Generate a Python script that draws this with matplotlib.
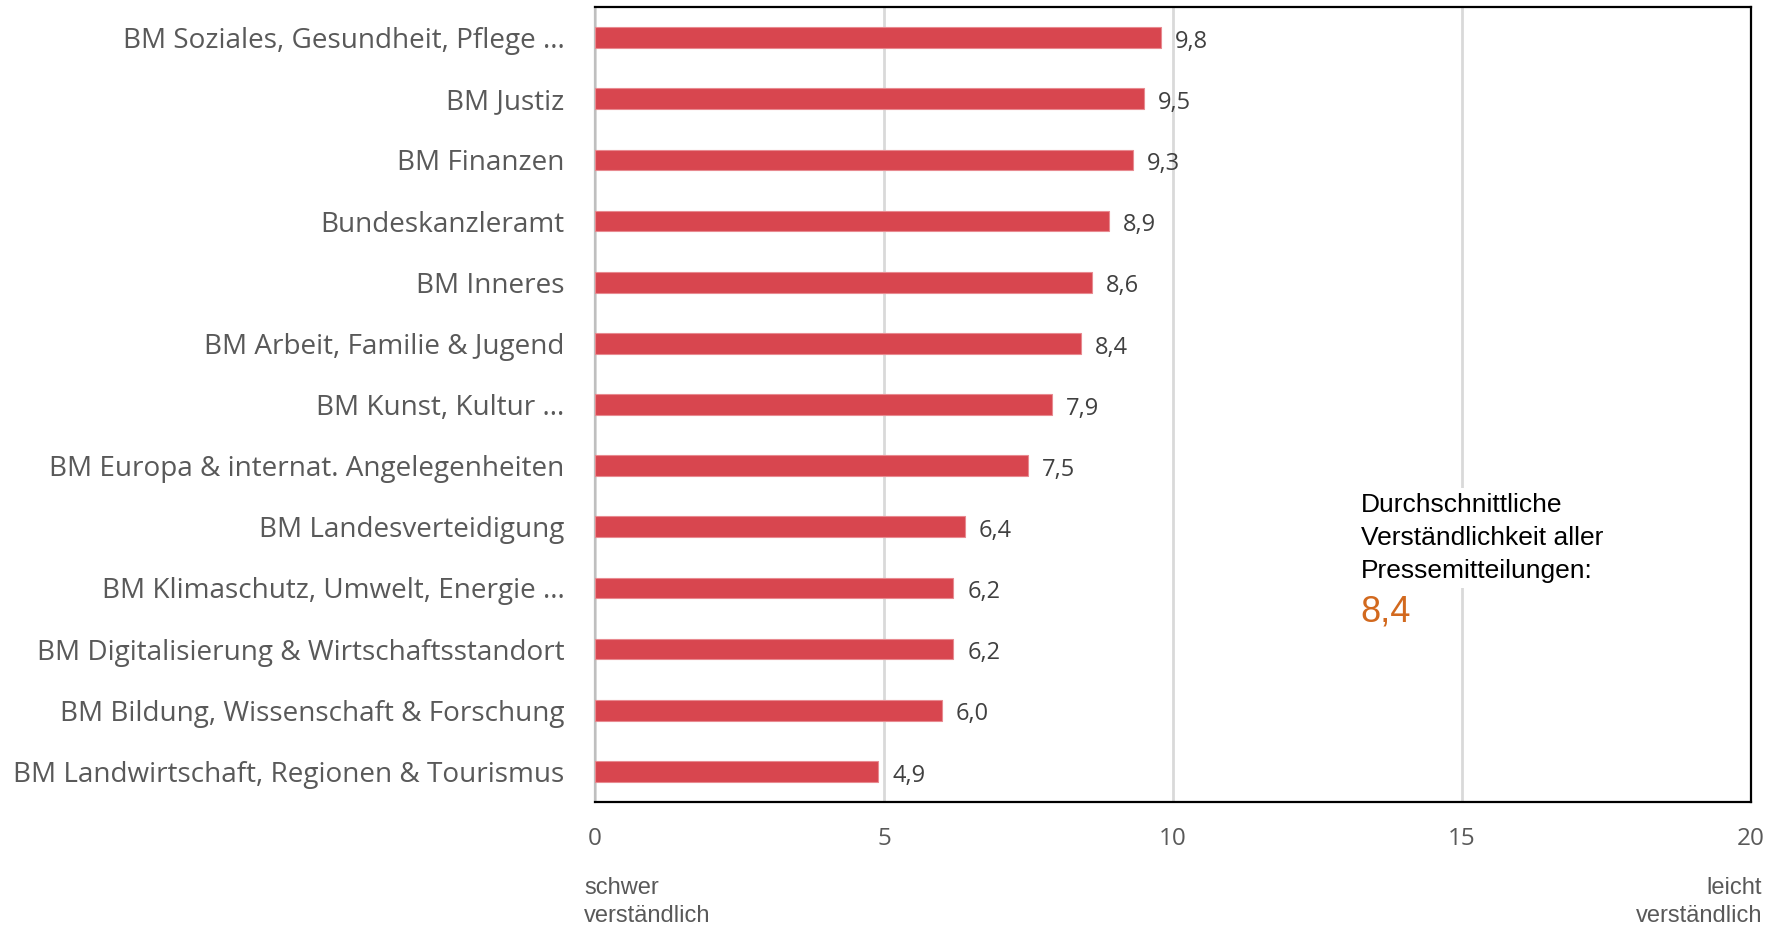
import numpy as np
import matplotlib
matplotlib.use("Agg")
import matplotlib.pyplot as plt

# Daten (von oben nach unten)
ministerien = [
    "BM Soziales, Gesundheit, Pflege ...",
    "BM Justiz",
    "BM Finanzen",
    "Bundeskanzleramt",
    "BM Inneres",
    "BM Arbeit, Familie & Jugend",
    "BM Kunst, Kultur ...",
    "BM Europa & internat. Angelegenheiten",
    "BM Landesverteidigung",
    "BM Klimaschutz, Umwelt, Energie ...",
    "BM Digitalisierung & Wirtschaftsstandort",
    "BM Bildung, Wissenschaft & Forschung",
    "BM Landwirtschaft, Regionen & Tourismus",
]
werte = [9.8, 9.5, 9.3, 8.9, 8.6, 8.4, 7.9, 7.5, 6.4, 6.2, 6.2, 6.0, 4.9]
xticks = [0, 5, 10, 15, 20]
durchschnitt = 8.4

rot = "#D8464F"
grau = "#595959"
dunkel = "#404040"
orange = "#D2691E"

fig = plt.figure(figsize=(17.77, 9.25), dpi=100)
ax = fig.add_axes([0.3348, 0.1330, 0.6506, 0.8594])

y = np.arange(len(ministerien))
ax.barh(y, werte, height=0.34, color=rot, edgecolor="#E88A90", linewidth=0.8, zorder=3)

for i, v in enumerate(werte):
    ax.annotate(f"{v:.1f}".replace(".", ","), xy=(v, i), xytext=(10, -3),
                textcoords="offset points", va="center", ha="left",
                fontsize=17, color=dunkel, family="Open Sans")

ax.set_ylim(len(ministerien) - 0.5, -0.5)
ax.set_xlim(0, 20)
ax.set_yticks(y)
ax.set_yticklabels(ministerien, fontsize=20.1, color=grau, family="Open Sans")
ax.set_xticks(xticks)
ax.set_xticklabels([str(t) for t in xticks], fontsize=17.5, color=grau, family="Open Sans")
ax.tick_params(axis="y", length=0, pad=22)
ax.tick_params(axis="x", length=0, pad=18)

ax.grid(axis="x", color="#D9D9D9", linewidth=2, zorder=0)
ax.set_axisbelow(True)

for s in ["top", "right", "bottom"]:
    ax.spines[s].set_color("black")
    ax.spines[s].set_linewidth(1.6)
ax.spines["left"].set_color("#BFBFBF")
ax.spines["left"].set_linewidth(1.6)

# Kasten mit Durchschnitt
ax.text(13.25, 7.45, "Durchschnittliche\nVerständlichkeit aller\nPressemitteilungen:",
        va="top", ha="left", fontsize=19, linespacing=1.46, color="black",
        family="Liberation Sans", zorder=4,
        bbox=dict(facecolor="white", edgecolor="none", pad=4))
ax.text(13.25, 9.55, f"{durchschnitt:.1f}".replace(".", ","), va="baseline", ha="left",
        fontsize=26, color=orange, family="Liberation Sans", zorder=4,
        bbox=dict(facecolor="white", edgecolor="none", pad=6))

fig.text(584 / 1777, 0.052, "schwer\nverständlich", ha="left", va="top",
         fontsize=17, color=grau, family="Liberation Sans", linespacing=1.35)
fig.text(1762 / 1777, 0.052, "leicht\nverständlich", ha="right", va="top",
         fontsize=17, color=grau, family="Liberation Sans", linespacing=1.35)

fig.savefig("out.png", dpi=100)
